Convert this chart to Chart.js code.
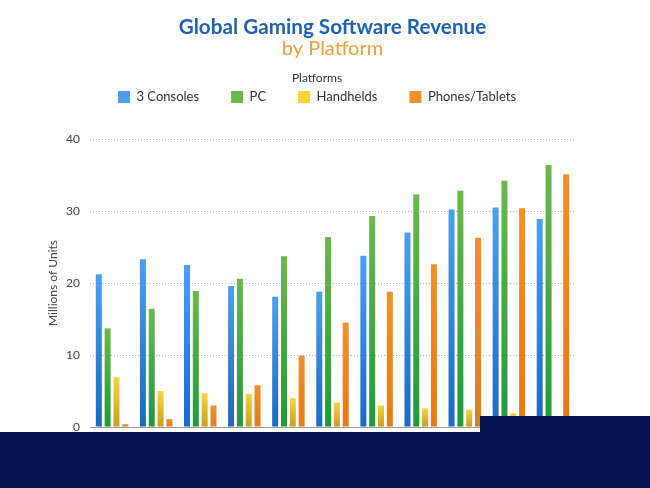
<!DOCTYPE html>
<html>
<head>
<meta charset="utf-8">
<script src="https://cdn.jsdelivr.net/npm/chart.js@4.4.1/dist/chart.umd.min.js"></script>
<style>
  html, body { margin: 0; padding: 0; background: #ffffff; }
  #wrap { position: relative; width: 650px; height: 488px; overflow: hidden; }
  #c { position: absolute; left: 0; top: 0; }
  .band { position: absolute; background: #031352; }
</style>
</head>
<body>
<div id="wrap">
  <canvas id="c" width="650" height="488"></canvas>
  <div class="band" style="left:0;top:432px;width:650px;height:56px;"></div>
  <div class="band" style="left:480px;top:416px;width:170px;height:16px;"></div>
</div>
<script>
const categories = ['2008', '2009', '2010', '2011', '2012', '2013', '2014', '2015', '2016', '2017', '2018'];
const consoles  = [21.2, 23.3, 22.5, 19.6, 18.1, 18.8, 23.8, 27.0, 30.2, 30.5, 28.9];
const pc        = [13.7, 16.4, 18.9, 20.6, 23.7, 26.4, 29.3, 32.3, 32.8, 34.2, 36.4];
const handhelds = [6.9, 5.0, 4.7, 4.6, 4.0, 3.4, 3.0, 2.6, 2.4, 1.9, 1.2];
const phones    = [0.4, 1.1, 3.0, 5.8, 9.9, 14.5, 18.8, 22.6, 26.3, 30.4, 35.1];
const yTicks    = [0, 10, 20, 30, 40];

function barGradient(top, bottom, legendColor) {
  return function (ctx) {
    const chart = ctx.chart;
    if (ctx.type !== 'data' || !chart.chartArea) return legendColor;
    const y = chart.scales.y;
    const yTop = y.getPixelForValue(ctx.raw);
    const yBase = y.getPixelForValue(0);
    if (!isFinite(yTop) || !isFinite(yBase) || yBase - yTop < 1) return legendColor;
    const g = chart.ctx.createLinearGradient(0, yTop, 0, yBase);
    g.addColorStop(0, top);
    g.addColorStop(1, bottom);
    return g;
  };
}

const legendSpacer = {
  id: 'legendSpacer',
  beforeInit(chart) {
    const orig = chart.legend.fit;
    chart.legend.fit = function () {
      orig.call(this);
      this.height += 25.5;
    };
  }
};

const font = "Lato, 'Open Sans', 'DejaVu Sans', sans-serif";

new Chart(document.getElementById('c'), {
  type: 'bar',
  data: {
    labels: categories,
    datasets: [
      { label: '3 Consoles', data: consoles, backgroundColor: barGradient('#4d9fec', '#1c68c2', '#3585dc') },
      { label: 'PC', data: pc, backgroundColor: barGradient('#6cb84a', '#1f983a', '#3aa53c') },
      { label: 'Handhelds', data: handhelds, backgroundColor: barGradient('#f6d53c', '#c89e18', '#e8c22c') },
      { label: 'Phones/Tablets', data: phones, backgroundColor: barGradient('#f2902a', '#e67a16', '#ec8522') }
    ]
  },
  options: {
    responsive: false,
    animation: false,
    devicePixelRatio: 1,
    datasets: { bar: { categoryPercentage: 0.8, barPercentage: 0.68 } },
    layout: { padding: { left: 59, right: 75, top: 0, bottom: 30.6 } },
    plugins: {
      tooltip: { enabled: false },
      title: {
        display: true,
        fullSize: false,
        text: 'Global Gaming Software Revenue',
        color: '#1f62b2',
        font: { family: font, size: 20.7, weight: 'bold', lineHeight: 1.02 },
        padding: { top: 17, bottom: 0 }
      },
      subtitle: {
        display: true,
        fullSize: false,
        text: 'by Platform',
        color: '#eba03e',
        font: { family: font, size: 20, weight: 'normal', lineHeight: 1.05 },
        padding: { top: 0, bottom: 0 }
      },
      legend: {
        display: true,
        position: 'top',
        title: {
          display: true,
          text: 'Platforms',
          color: '#333333',
          font: { family: font, size: 12 },
          padding: { top: 13, bottom: -28 }
        },
        labels: {
          boxWidth: 12,
          boxHeight: 12,
          padding: 32,
          color: '#333333',
          font: { family: font, size: 13 }
        }
      }
    },
    scales: {
      x: {
        grid: { display: false, drawTicks: false },
        border: { display: true, color: '#999999', width: 1 },
        ticks: { color: '#444444', font: { family: font, size: 12 }, padding: 8 }
      },
      y: {
        min: 0,
        max: 40,
        afterFit(scale) { scale.width = 31; },
        afterBuildTicks(scale) { scale.ticks = yTicks.map(v => ({ value: v })); },
        grid: { color: '#b5b5b5', drawTicks: false, lineWidth: 1 },
        border: { display: false, dash: [1, 2] },
        ticks: { color: '#444444', font: { family: font, size: 12 }, padding: 10 },
        title: {
          display: true,
          text: 'Millions of Units',
          color: '#444444',
          font: { family: font, size: 12 },
          padding: { top: -13.2, bottom: 0 }
        }
      }
    }
  },
  plugins: [legendSpacer]
});
</script>
</body>
</html>
